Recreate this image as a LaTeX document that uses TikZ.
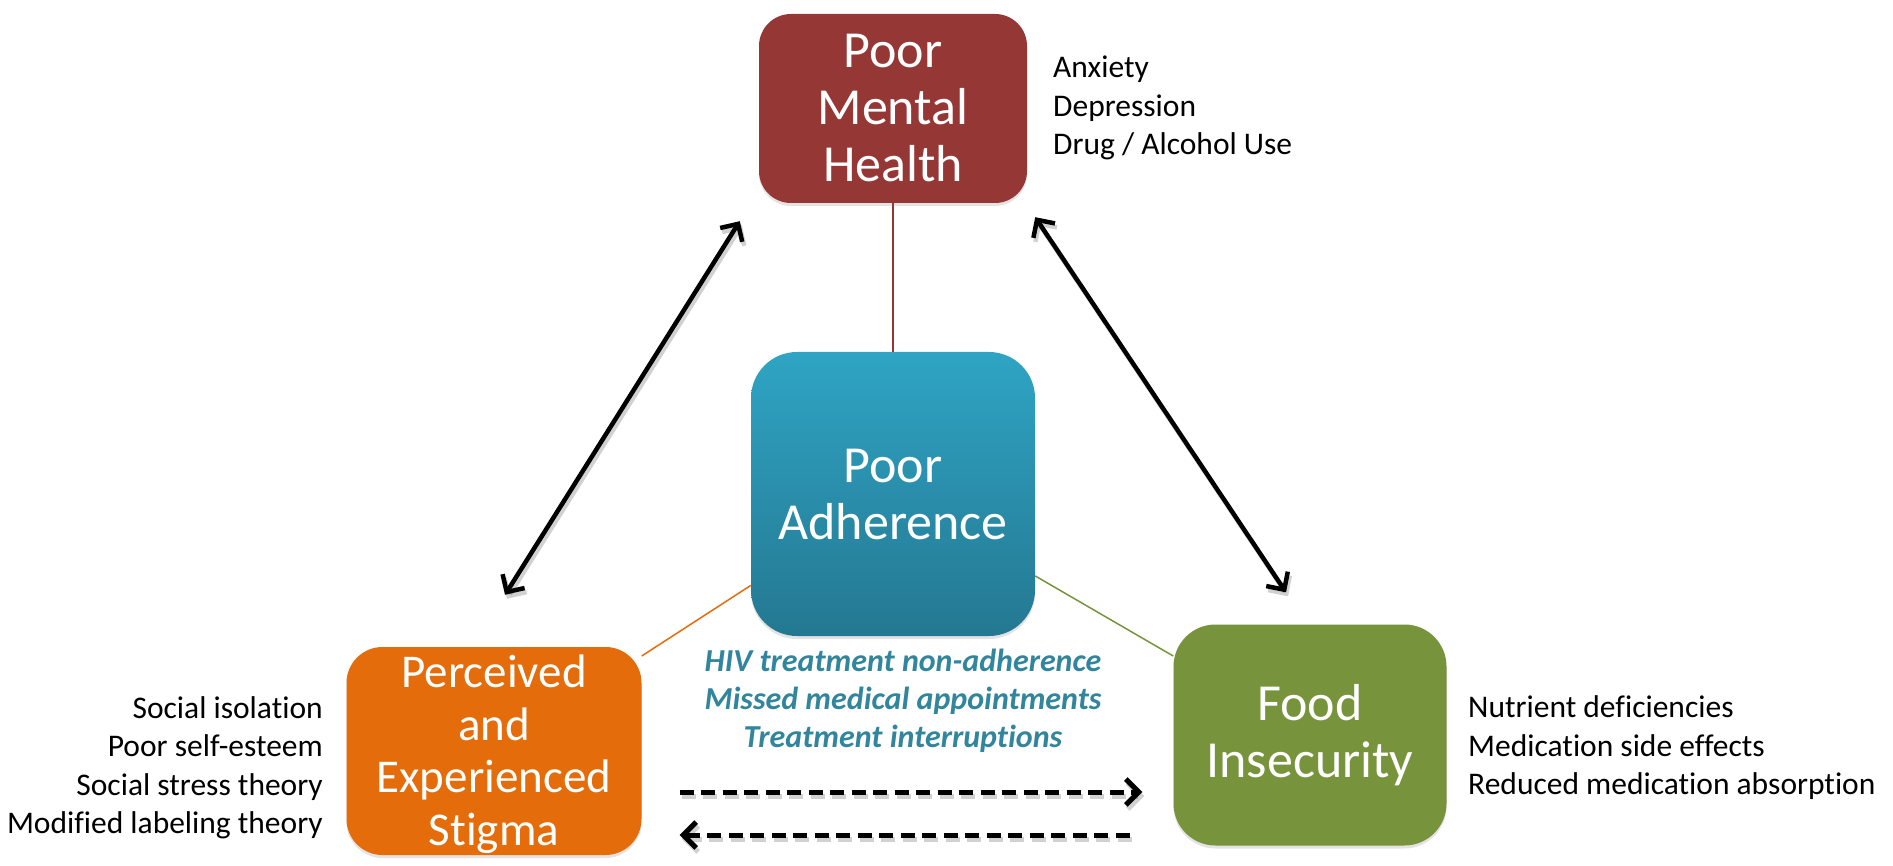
\documentclass[tikz,border=0pt]{standalone}
\usepackage{fontspec}
\setmainfont{Carlito}[Ligatures={NoCommon}]
\usetikzlibrary{arrows.meta,calc,shadows}

\definecolor{mhred}{HTML}{953735}
\definecolor{stigorange}{HTML}{E46C0A}
\definecolor{foodgreen}{HTML}{77933C}
\definecolor{adhtop}{HTML}{2FA4C4}
\definecolor{adhbot}{HTML}{247891}
\definecolor{notetext}{HTML}{31859C}

\begin{document}
\begin{tikzpicture}[x=1pt,y=-1pt,
  box/.style={rounded corners=#1, inner sep=0pt, text=white, align=center,
    font=\fontsize{52}{57}\selectfont,
    drop shadow={shadow xshift=0pt,shadow yshift=-3pt,opacity=0.22}},
  side/.style={inner sep=0pt, font=\fontsize{31.5}{38.5}\selectfont},
  thinlink/.style={line width=1.5pt},
  dbl/.style={line width=4.5pt,
    {Straight Barb[length=13pt,width=26pt]}-{Straight Barb[length=13pt,width=26pt]}},
  dashedarrow/.style={line width=5pt, dash pattern=on 14pt off 7.5pt},
  tipr/.style={-{Straight Barb[length=13pt,width=26pt]}},
  tipl/.style={{Straight Barb[length=13pt,width=26pt]}-},
  arrowshadow/.style={black, opacity=0.18, transform canvas={shift={(2pt,-4pt)}}}
]
\useasboundingbox (0,0) rectangle (1893,866);

% the four boxes
\node[box=32pt, fill=mhred, minimum width=268pt, minimum height=189pt]
  (mh) at (893,108.5) {Poor\\Mental\\Health};
\node[box=46pt, top color=adhtop, bottom color=adhbot,
  minimum width=284pt, minimum height=284pt]
  (adh) at (893,494) {Poor\\Adherence};
\node[box=36pt, fill=stigorange, minimum width=295pt, minimum height=208pt,
  font=\fontsize{47}{52.5}\selectfont]
  (stig) at (494,751) {\parbox{280pt}{\centering\vspace*{6pt}Perceived\\and\\Experienced\\Stigma}};
\node[box=42pt, fill=foodgreen, minimum width=273pt, minimum height=221pt]
  (food) at (1310,735) {Food\\Insecurity};

% thin links from the centre box
\draw[thinlink, mhred] (mh) -- (adh);
\draw[thinlink, stigorange] (adh) -- (stig);
\draw[thinlink, foodgreen] (adh) -- (food.150);

% end points of the two-way arrows
\coordinate (l1) at ($(mh.south west)+(-19,18)$);
\coordinate (l2) at ($(stig.north)+(11,-52)$);
\coordinate (r1) at ($(mh.south east)+(8,14)$);
\coordinate (r2) at ($(food.north)+(-24,-32)$);
\draw[dbl, arrowshadow] (l1) -- (l2);
\draw[dbl, arrowshadow] (r1) -- (r2);
\draw[dbl] (l1) -- (l2);
\draw[dbl] (r1) -- (r2);

% dashed arrows between stigma and food insecurity
\coordinate (d1s) at ($(stig.east)+(38,41)$);
\coordinate (d1e) at ($(food.west)+(-31,57)$);
\coordinate (d2e) at ($(stig.east)+(38,84)$);
\coordinate (d2s) at ($(food.west)+(-43,100)$);
\draw[dashedarrow, tipr, arrowshadow] (d1s) -- (d1e);
\draw[dashedarrow, tipl, arrowshadow] (d2e) -- (d2s);
\draw[dashedarrow, tipr] (d1s) -- (d1e);
\draw[dashedarrow, tipl] (d2e) -- (d2s);

% notes
\node[side, anchor=west, align=left] (mhnotes) at (1053,108)
  {Anxiety\\Depression\\Drug / Alcohol Use};
\node[side, anchor=east, align=right] (stignotes) at (323,768)
  {Social isolation\\Poor self-esteem\\Social stress theory\\Modified labeling theory};
\node[side, anchor=west, align=left] (foodnotes) at (1468,748)
  {Nutrient deficiencies\\Medication side effects\\Reduced medication absorption};
\node[inner sep=0pt, text=notetext, align=center,
  font=\fontsize{32}{38}\selectfont\bfseries\itshape] (adhnotes) at (903,701)
  {HIV treatment non-adherence\\Missed medical appointments\\Treatment interruptions};
\end{tikzpicture}
\end{document}
